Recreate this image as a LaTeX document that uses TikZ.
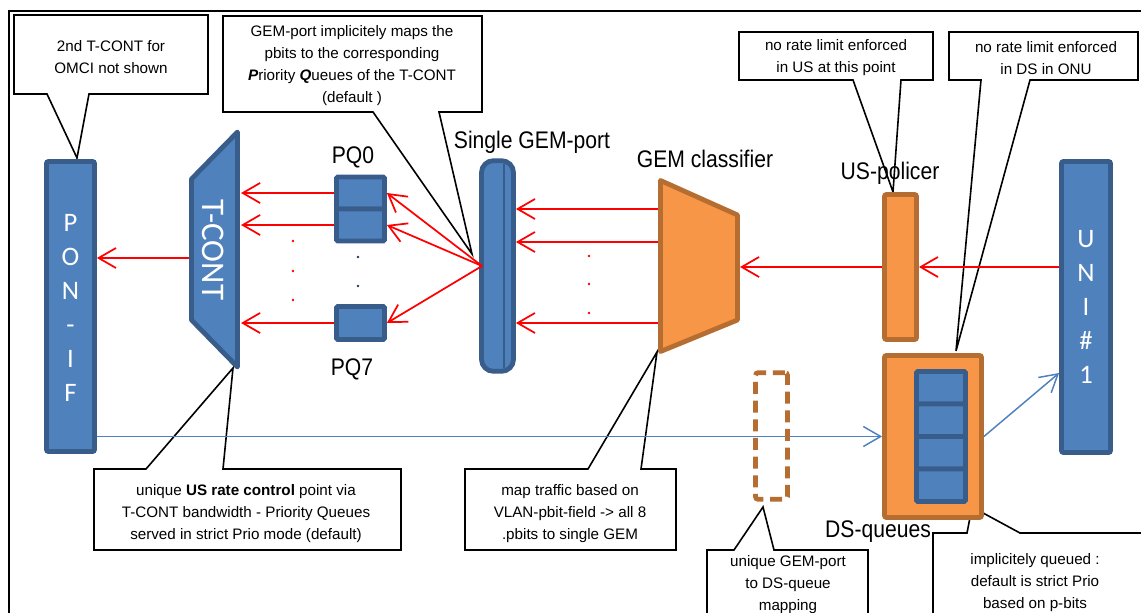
\documentclass[tikz,border=0pt]{standalone}
\usepackage{fontspec}
\setmainfont{Liberation Sans}
\newfontfamily\bigf{Liberation Sans}[FakeStretch=0.88]
\newfontfamily\calf{Carlito}
\usetikzlibrary{arrows.meta}
\definecolor{bfill}{HTML}{4F81BD}
\definecolor{bline}{HTML}{385D8A}
\definecolor{ofill}{HTML}{F79646}
\definecolor{oline}{HTML}{B66D31}
\definecolor{navy}{HTML}{1F3A60}
\begin{document}
\begin{tikzpicture}[x=0.75pt,y=-0.75pt,
  bluebox/.style={draw=bline,fill=bfill,line width=3.6pt,rounded corners=1.5pt,inner sep=0pt},
  orbox/.style={draw=oline,fill=ofill,line width=3.6pt,rounded corners=1.5pt,inner sep=0pt},
  blueshape/.style={draw=bline,fill=bfill,line width=3.6pt,line join=round},
  orshape/.style={draw=oline,fill=ofill,line width=3.6pt,line join=round},
  redarr/.style={draw=red,line width=1.3pt,-{Straight Barb[length=13pt,width=15pt]}},
  bluearr/.style={draw=bfill,line width=1.1pt,-{Straight Barb[length=13pt,width=15pt]}},
  callout/.style={draw=black,fill=white,line width=1.2pt,line join=miter},
  ctext/.style={font=\fontsize{11.4}{16.5}\selectfont,align=center,inner sep=0pt},
  bigtext/.style={font=\bigf\fontsize{18}{20}\selectfont,inner sep=0pt,anchor=base},
  vtext/.style={font=\calf\fontsize{20}{25.5}\selectfont,text=white,align=center,inner sep=0pt},
  ]
\useasboundingbox (0,0) rectangle (1141,613);
\clip (0,0) rectangle (1141,613);
\fill[white] (0,0) rectangle (1141,613);
% frame
\draw[line width=1.6pt] (9,11) rectangle (1170,640);

% callouts
\draw[callout] (14,15) -- (208,15) -- (208,94) -- (89,94) -- (77,158) -- (47,94) -- (14,94) -- cycle;
\draw[callout] (223,16) -- (482,16) -- (482,112) -- (439,112) -- (472,254) -- (373,112) -- (223,112) -- cycle;
\draw[callout] (739,32) -- (933,32) -- (933,80) -- (901,80) -- (893,192) -- (853,80) -- (739,80) -- cycle;
\draw[callout] (949,32) -- (1138,32) -- (1138,80) -- (1030,80) -- (956,351) -- (981,80) -- (949,80) -- cycle;
\draw[callout] (94,469) -- (146,469) -- (233,368) -- (223,469) -- (401,469) -- (401,550) -- (94,550) -- cycle;
\draw[callout] (465,469) -- (588,469) -- (657,352) -- (641,469) -- (676,469) -- (676,550) -- (465,550) -- cycle;
\draw[callout] (707,550) -- (734,550) -- (763,507) -- (774,550) -- (868,550) -- (868,640) -- (707,640) -- cycle;
\draw[callout] (933,533) -- (967,533) -- (972,507) -- (1020,533) -- (1170,533) -- (1170,640) -- (933,640) -- cycle;

\node[ctext] (c1) at (111,57) {2nd T-CONT for\\OMCI not shown};
\node[ctext] (c2) at (352,66) {GEM-port implicitely maps the\\pbits to the corresponding\\\textbf{\textit{P}}riority \textbf{\textit{Q}}ueues of the T-CONT\\(default )};
\node[ctext] (c3) at (836,58) {no rate limit enforced\\in US at this point};
\node[ctext] (c4) at (1046,58) {no rate limit enforced\\in DS in ONU};
\node[ctext] (c5) at (246,514) {unique \textbf{US rate control} point via\\T-CONT bandwidth - Priority Queues\\served in strict Prio mode (default)};
\node[ctext] (c6) at (570,514) {map traffic based on\\VLAN-pbit-field -> all 8\\.pbits to single GEM};
\node[ctext] (c7) at (788,585) {unique GEM-port\\to DS-queue\\mapping};
\node[ctext] (c8) at (1035,583) {implicitely queued :\\default is strict Prio\\based on p-bits};

% PON-IF
\node[bluebox,minimum width=36pt,minimum height=217.5pt] (pon) at (70.5,306.5) {};
\node[vtext] (ponl) at (70.5,308) {P\\O\\N\\-\\I\\F};
% UNI
\node[bluebox,minimum width=36.75pt,minimum height=218.25pt] (uni) at (1086,307) {};
\node[vtext] (unil) at (1086,306.5) {U\\N\\I\\\#\\1};

% T-CONT
\draw[blueshape] (191.5,179) -- (237.5,132) -- (237.5,367) -- (191.5,320) -- cycle;
\node[font=\calf\fontsize{24.75}{26}\selectfont,text=white,rotate=-90,inner sep=0pt] (tcont) at (213,250) {T-CONT};
\coordinate (tcL) at (189,258);
\coordinate (t1) at (241,193);
\coordinate (t2) at (241,225);
\coordinate (t3) at (241,323);

% priority queues
\node[bluebox,rounded corners=1pt,minimum width=36pt,minimum height=24pt] (pq0a) at (360.5,193) {};
\node[bluebox,rounded corners=1pt,minimum width=36pt,minimum height=24pt] (pq0b) at (360.5,225) {};
\node[bluebox,rounded corners=1pt,minimum width=36pt,minimum height=24.75pt] (pq7) at (360.5,323) {};
\coordinate (p1) at (334,193);
\coordinate (p2) at (334,225);

% GEM port
\node[bluebox,rounded corners=9pt,minimum width=24pt,minimum height=158pt] (gem) at (497.5,266) {};
\draw[bline,line width=2pt] (504,164) -- (504,368);
\coordinate (gemL) at (482,266);

% GEM classifier
\draw[orshape] (660.5,180.5) -- (737.5,215) -- (737.5,320) -- (660.5,351.5) -- cycle;
\coordinate (clsR) at (740,267);
\coordinate (g1) at (658,209);
\coordinate (g2) at (658,242);
\coordinate (g3) at (658,323);

% US policer
\node[orbox,minimum width=24pt,minimum height=108.75pt] (uspol) at (900.5,267) {};

% DS queues
\node[orbox,minimum width=72.75pt,minimum height=121.5pt] (dsq) at (933,436.5) {};
\node[bluebox,rounded corners=1pt,minimum width=36.75pt,minimum height=24.375pt] (dq1) at (941,387.75) {};
\node[bluebox,rounded corners=1pt,minimum width=36.75pt,minimum height=24.375pt] (dq2) at (941,420.25) {};
\node[bluebox,rounded corners=1pt,minimum width=36.75pt,minimum height=24.375pt] (dq3) at (941,452.75) {};
\node[bluebox,rounded corners=1pt,minimum width=36.75pt,minimum height=24.375pt] (dq4) at (941,485.25) {};

% red arrows (upstream)
\draw[redarr] (tcL) -- (tcL -| pon.east);
\draw[redarr] (p1) -- (t1);
\draw[redarr] (p2) -- (t2);
\draw[redarr] (pq7.west) -- (t3);
\draw[redarr] (gemL) -- (pq0a.east);
\draw[redarr] (gemL) -- (pq0b.east);
\draw[redarr] (gemL) -- (pq7.east);
\draw[redarr] (g1) -- (g1 -| gem.east);
\draw[redarr] (g2) -- (g2 -| gem.east);
\draw[redarr] (g3) -- (g3 -| gem.east);
\draw[redarr] (uspol.west) -- (uspol.west -| clsR);
\draw[redarr] (uni.west |- uspol.east) -- (uspol.east);

% dots
\foreach \yy in {241,271,300} \fill[red] (293,\yy) circle (1.1pt);
\foreach \yy in {256,284,313} \fill[red] (589,\yy) circle (1.1pt);
\foreach \yy in {257,286} \fill[navy] (358,\yy) circle (1.1pt);

% downstream blue
\draw[bluearr] (pon.east |- dsq.west) -- (dsq.west);
\coordinate (uniIn) at (uni.west |- 0,373);
\draw[bluearr] (dsq.east) -- (uniIn);
\node[draw=oline,line width=3.6pt,dash pattern=on 9pt off 5pt,rounded corners=2pt,inner sep=0pt,minimum width=24pt,minimum height=95pt] (dsgem) at (771.5,436) {};

% big labels
\node[bigtext] (lpq0) at (353,164) {PQ0};
\node[bigtext] (lpq7) at (352,375) {PQ7};
\node[bigtext] (lgem) at (532,148) {Single GEM-port};
\node[bigtext] (lcls) at (705,167) {GEM classifier};
\node[bigtext] (lpol) at (890,180) {US-policer};
\node[bigtext] (lds) at (878,537) {DS-queues};
\end{tikzpicture}
\end{document}
